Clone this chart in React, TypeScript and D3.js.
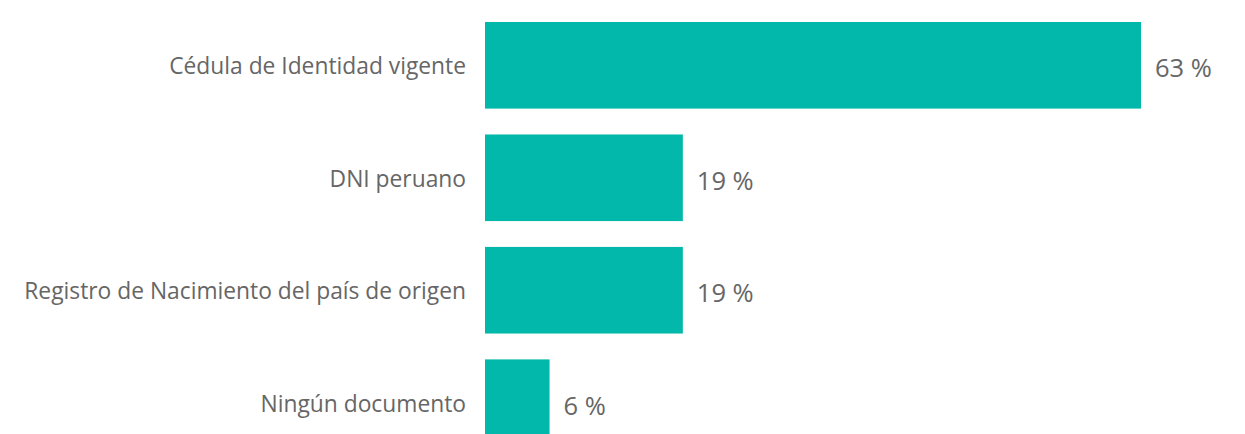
import React from "react";
import * as d3 from "d3";

const categories = [
  "Cédula de Identidad vigente",
  "DNI peruano",
  "Registro de Nacimiento del país de origen",
  "Ningún documento",
];
const values = [63, 19, 19, 6.2];
const valueLabels = ["63 %", "19 %", "19 %", "6 %"];

const W = 1245;
const H = 434;

export default function App() {
  const x = d3.scaleLinear().domain([0, 63]).range([485, 1141]);
  const y = d3
    .scaleBand<string>()
    .domain(categories)
    .range([22, 446])
    .paddingInner(0.23)
    .paddingOuter(0);

  return (
    <svg
      width={W}
      height={H}
      style={{ position: "absolute", left: 0, top: 0, display: "block" }}
      fontFamily="'Open Sans', sans-serif"
    >
      <rect x={0} y={0} width={W} height={H} fill="#ffffff" />
      {categories.map((c, i) => {
        const y0 = y(c)!;
        const bw = y.bandwidth();
        const cy = y0 + bw / 2;
        return (
          <g key={c}>
            <rect
              x={x(0)}
              y={y0}
              width={x(values[i]) - x(0)}
              height={bw}
              fill="#02B8AA"
            />
            <text
              x={x(0) - 19}
              y={cy + 1}
              dy="0.35em"
              textAnchor="end"
              fontSize={22.8}
              fill="#666666"
            >
              {c}
            </text>
            <text
              x={x(values[i]) + 14}
              y={cy + 3}
              dy="0.35em"
              textAnchor="start"
              fontSize={25.5}
              fill="#666666"
            >
              {valueLabels[i]}
            </text>
          </g>
        );
      })}
    </svg>
  );
}
